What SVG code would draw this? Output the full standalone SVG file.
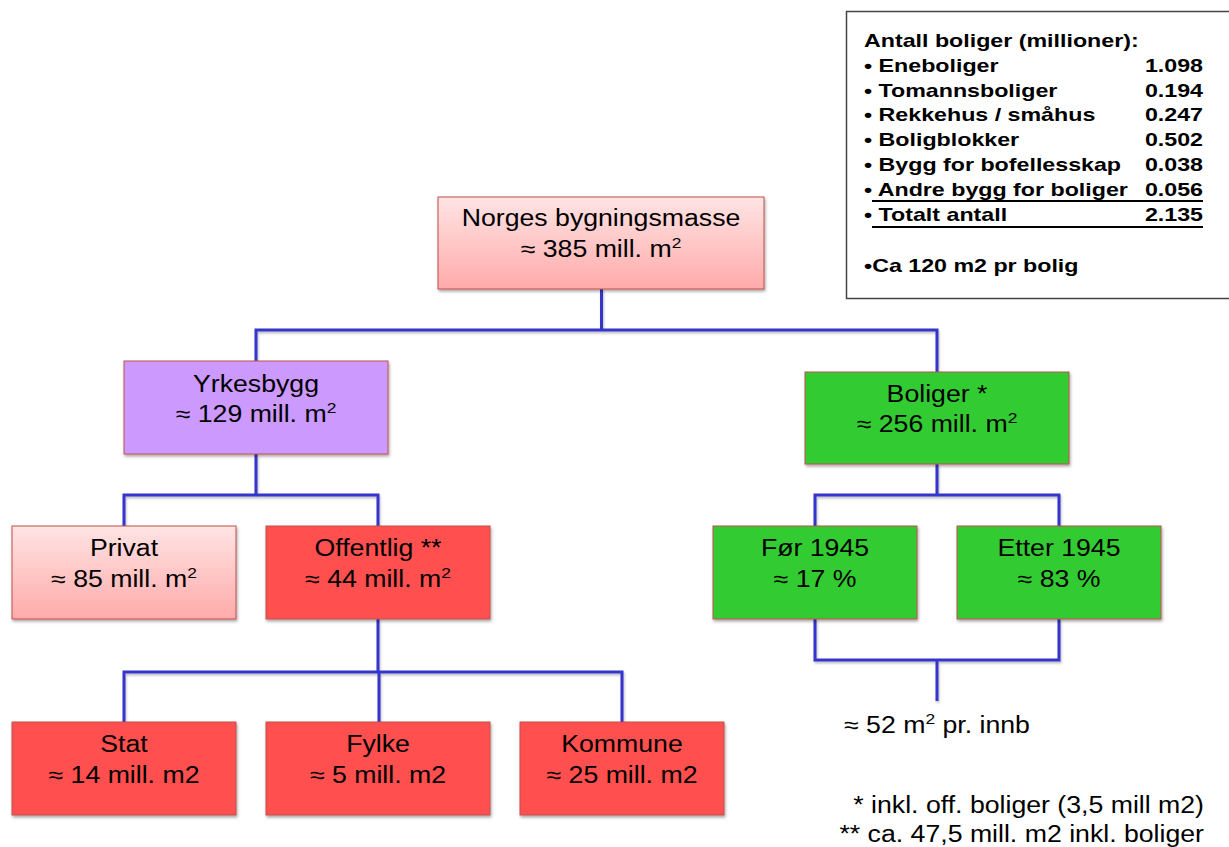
<svg xmlns="http://www.w3.org/2000/svg" width="1229" height="847" viewBox="0 0 1229 847">
<defs>
<linearGradient id="pink" x1="0" y1="0" x2="0" y2="1">
<stop offset="0" stop-color="#ffe4e4"/>
<stop offset="1" stop-color="#ffaaaa"/>
</linearGradient>
<filter id="sh" x="-10%" y="-10%" width="130%" height="140%">
<feDropShadow dx="1" dy="2" stdDeviation="1.5" flood-color="#000" flood-opacity="0.35"/>
</filter>
<filter id="lsh" x="-10%" y="-10%" width="130%" height="140%">
<feDropShadow dx="1" dy="2" stdDeviation="1.2" flood-color="#000" flood-opacity="0.25"/>
</filter>
</defs>
<style>
.box{stroke:#c0504d;stroke-width:1;filter:url(#sh);}
.pink{fill:url(#pink);}
.purple{fill:#cc99ff;}
.red{fill:#ff5050;}
.green{fill:#33cc33;}
.t{font-family:"Liberation Sans",Arial,sans-serif;font-size:23px;fill:#000;text-anchor:middle;}
.sup{font-size:15px;}
.lg{font-family:"Liberation Sans",Arial,sans-serif;font-size:18px;font-weight:bold;fill:#000;}
.num{text-anchor:end;}
.conn{fill:none;stroke:#3535cc;stroke-width:3;stroke-linejoin:miter;filter:url(#lsh);}
.fn{font-family:"Liberation Sans",Arial,sans-serif;font-size:23px;fill:#000;text-anchor:end;}
</style>
<rect width="1229" height="847" fill="#fff"/>

<g id="connectors">
<path class="conn" d="M601.5 289 V330 M256 362 V330 H937 V372"/>
<path class="conn" d="M256 454 V495 M124 526 V495 H378 V526"/>
<path class="conn" d="M378 619 V672 M124 722 V672 H622 V722 M379 672 V722"/>
<path class="conn" d="M937 464 V495 M815 526 V495 H1059 V526"/>
<path class="conn" d="M815 619 V660 H1059 V619 M937 660 V701"/>
</g>

<g id="legend">
<rect x="846.5" y="11.5" width="400" height="287" fill="#fff" stroke="#444" stroke-width="1.5"/>
<g transform="translate(864 0) scale(1.29 1)">
<text class="lg" x="0" y="47">Antall boliger (millioner):</text>
<text class="lg" x="0" y="72">• Eneboliger</text>
<text class="lg" x="0" y="97">• Tomannsboliger</text>
<text class="lg" x="0" y="121">• Rekkehus / småhus</text>
<text class="lg" x="0" y="146">• Boligblokker</text>
<text class="lg" x="0" y="171">• Bygg for bofellesskap</text>
<text class="lg" x="0" y="196">• Andre bygg for boliger</text>
<text class="lg" x="0" y="221">• Totalt antall</text>
<text class="lg" x="0" y="272">•Ca 120 m2 pr bolig</text>
<text class="lg num" x="262.8" y="72">1.098</text>
<text class="lg num" x="262.8" y="97">0.194</text>
<text class="lg num" x="262.8" y="121">0.247</text>
<text class="lg num" x="262.8" y="146">0.502</text>
<text class="lg num" x="262.8" y="171">0.038</text>
<text class="lg num" x="262.8" y="196">0.056</text>
<text class="lg num" x="262.8" y="221">2.135</text>
</g>
<line x1="872" y1="201" x2="1203" y2="201" stroke="#000" stroke-width="2"/>
<line x1="872" y1="227" x2="1203" y2="227" stroke="#000" stroke-width="2"/>
</g>

<g id="norges">
<rect class="box pink" x="438" y="197" width="326" height="92"/>
<g transform="translate(601 0) scale(1.16 1)">
<text class="t" x="0" y="226">Norges bygningsmasse</text>
<text class="t" x="0" y="257">≈ 385 mill. m<tspan class="sup" dy="-9">2</tspan></text>
</g>
</g>

<g id="yrkesbygg">
<rect class="box purple" x="124" y="361" width="264" height="93"/>
<g transform="translate(256 0) scale(1.16 1)">
<text class="t" x="0" y="392">Yrkesbygg</text>
<text class="t" x="0" y="422">≈ 129 mill. m<tspan class="sup" dy="-9">2</tspan></text>
</g>
</g>

<g id="boliger">
<rect class="box green" x="805" y="372" width="264" height="92"/>
<g transform="translate(937 0) scale(1.16 1)">
<text class="t" x="0" y="402">Boliger *</text>
<text class="t" x="0" y="432">≈ 256 mill. m<tspan class="sup" dy="-9">2</tspan></text>
</g>
</g>

<g id="privat">
<rect class="box pink" x="12" y="526" width="224" height="93"/>
<g transform="translate(124 0) scale(1.16 1)">
<text class="t" x="0" y="556">Privat</text>
<text class="t" x="0" y="587">≈ 85 mill. m<tspan class="sup" dy="-9">2</tspan></text>
</g>
</g>

<g id="offentlig">
<rect class="box red" x="266" y="526" width="224" height="93"/>
<g transform="translate(378 0) scale(1.16 1)">
<text class="t" x="0" y="556">Offentlig **</text>
<text class="t" x="0" y="587">≈ 44 mill. m<tspan class="sup" dy="-9">2</tspan></text>
</g>
</g>

<g id="for1945">
<rect class="box green" x="713" y="526" width="204" height="93"/>
<g transform="translate(815 0) scale(1.16 1)">
<text class="t" x="0" y="556">Før 1945</text>
<text class="t" x="0" y="587">≈ 17 %</text>
</g>
</g>

<g id="etter1945">
<rect class="box green" x="957" y="526" width="204" height="93"/>
<g transform="translate(1059 0) scale(1.16 1)">
<text class="t" x="0" y="556">Etter 1945</text>
<text class="t" x="0" y="587">≈ 83 %</text>
</g>
</g>

<g id="stat">
<rect class="box red" x="12" y="722" width="224" height="93"/>
<g transform="translate(124 0) scale(1.16 1)">
<text class="t" x="0" y="752">Stat</text>
<text class="t" x="0" y="783">≈ 14 mill. m2</text>
</g>
</g>

<g id="fylke">
<rect class="box red" x="266" y="722" width="224" height="93"/>
<g transform="translate(378 0) scale(1.16 1)">
<text class="t" x="0" y="752">Fylke</text>
<text class="t" x="0" y="783">≈ 5 mill. m2</text>
</g>
</g>

<g id="kommune">
<rect class="box red" x="520" y="722" width="204" height="93"/>
<g transform="translate(622 0) scale(1.16 1)">
<text class="t" x="0" y="752">Kommune</text>
<text class="t" x="0" y="783">≈ 25 mill. m2</text>
</g>
</g>

<g id="perinnb">
<g transform="translate(937 0) scale(1.16 1)">
<text class="t" x="0" y="733">≈ 52 m<tspan class="sup" dy="-9">2</tspan><tspan dy="9"> pr. innb</tspan></text>
</g>
</g>

<g id="footnotes">
<g transform="translate(1204 0) scale(1.16 1)">
<text class="fn" x="0" y="813">* inkl. off. boliger (3,5 mill m2)</text>
<text class="fn" x="0" y="842">** ca. 47,5 mill. m2 inkl. boliger</text>
</g>
</g>
</svg>
